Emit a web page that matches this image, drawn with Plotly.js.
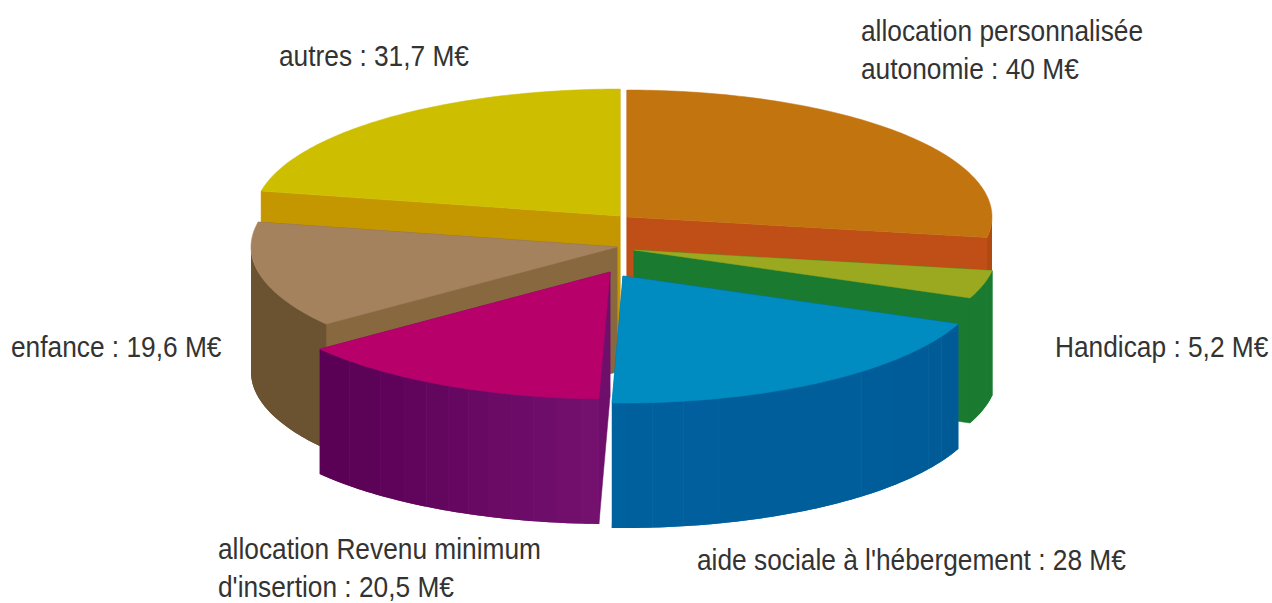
<!DOCTYPE html>
<html lang="fr">
<head>
<meta charset="utf-8">
<script src="https://cdn.plot.ly/plotly-3.0.1.min.js"></script>
<style>html,body{margin:0;padding:0;background:#fff;overflow:hidden}#chart{width:1272px;height:603px}</style>
</head>
<body>
<div id="chart"></div>
<script>
// Data: budget shares, clockwise from 12 o'clock
const categories = ["allocation personnalisée autonomie", "Handicap", "aide sociale à l'hébergement", "allocation Revenu minimum d'insertion", "enfance", "autres"];
const values = [40, 5.2, 28, 20.5, 19.6, 31.7];
const labels = ["allocation personnalisée<br>autonomie : 40 M€", "Handicap : 5,2 M€", "aide sociale à l'hébergement : 28 M€", "allocation Revenu minimum<br>d'insertion : 20,5 M€", "enfance : 19,6 M€", "autres : 31,7 M€"];

// Styles and projection of the exploded 3D pie
const apexX = [627, 634, 623, 610, 617, 620];
const apexY = [217, 250, 276, 272, 247, 216];
const radiusX = [365, 363, 362, 365, 366, 366];
const radiusY = 127;
const depth = 125;
const topColors = ["#c2740f", "#9aa920", "#008cc1", "#b8006b", "#a5825e", "#cdbf00"];
const faceColors = ["#bf4f16", "#197a30", "#00609e", "#6f0f6c", "#88683f", "#c49600"];
const wallBase = ["#b04a10", "#2f8f45", "#1a78b0", "#7f1f7c", "#6b5231", "#c49600"];
const wallStart = ["#b04a10", "#197a30", "#005a96", "#74116f", "#6b5231", "#c49600"];
const wallEnd = ["#b04a10", "#197a30", "#00619f", "#5a0055", "#6b5231", "#c49600"];
const seams = [[], [104, 107, 110.4], [118.4, 122.4, 127.3, 132, 138.8, 164.6, 170.4, 175.3, 179.7],
  [184.5, 188.5, 192.1, 195.7, 199.5, 202.8, 206.3, 210.2, 214.2, 219, 225.5], [], []];
const drawOrder = [5, 0, 4, 1, 3, 2];
const labelX = [861, 1055, 697, 218, 11, 279];
const labelY = [50, 347, 560, 568, 347, 56];
const labelWidthScale = 0.907;

const total = values.reduce((a, b) => a + b, 0);
const rad = d => d * Math.PI / 180;
const traces = [];

function pt(i, deg, down) {
  return [apexX[i] + radiusX[i] * Math.sin(rad(deg)), apexY[i] - radiusY * Math.cos(rad(deg)) + (down ? depth : 0)];
}
function addPoly(points, color, name, width) {
  traces.push({
    type: "scatter", mode: width ? "lines" : "none", fill: "toself", fillcolor: color, name: name, hoverinfo: "name",
    line: { color: color, width: width || 0, simplify: false },
    x: points.map(p => p[0]).concat(points[0][0]), y: points.map(p => p[1]).concat(points[0][1])
  });
}
function mix(a, b, t) {
  const c = h => [1, 3, 5].map(k => parseInt(h.substr(k, 2), 16));
  const A = c(a), B = c(b);
  return "rgb(" + A.map((v, k) => Math.round(v + (B[k] - v) * t)).join(",") + ")";
}
function arc(i, a0, a1, down) {
  const n = Math.max(1, Math.ceil(Math.abs(a1 - a0)));
  const out = [];
  for (let k = 0; k <= n; k++) out.push(pt(i, a0 + (a1 - a0) * k / n, down));
  return out;
}

let acc = 0;
const spans = values.map(v => { const s = [acc, acc + v / total * 360]; acc = s[1]; return s; });

drawOrder.forEach(i => {
  const [a0, a1] = spans[i];
  const name = categories[i];
  const apexT = [apexX[i], apexY[i]], apexB = [apexX[i], apexY[i] + depth];
  // radial cut faces
  addPoly([apexT, pt(i, a0, false), pt(i, a0, true), apexB], faceColors[i], name, 0.5);
  addPoly([apexT, pt(i, a1, false), pt(i, a1, true), apexB], faceColors[i], name, 0.5);
  // outer wall: front-facing part only, over a base that shows faintly through the facet joints
  const w0 = Math.max(a0, 90), w1 = Math.min(a1, 270);
  if (w1 > w0) {
    addPoly([...arc(i, w0, w1, false), ...arc(i, w1, w0, true)], wallBase[i], name, 0);
    const stops = [w0, ...seams[i].filter(s => s > w0 && s < w1), w1];
    for (let k = 0; k < stops.length - 1; k++) {
      const t = stops.length > 2 ? k / (stops.length - 2) : 0;
      addPoly([...arc(i, stops[k], stops[k + 1], false), ...arc(i, stops[k + 1], stops[k], true)],
        mix(wallStart[i], wallEnd[i], t), name, 0);
    }
  }
  // top
  addPoly([apexT, ...arc(i, a0, a1, false)], topColors[i], name, 0.5);
});

const annotations = labels.map((text, i) => ({
  text: text, x: labelX[i], y: labelY[i], xref: "x", yref: "y", xanchor: "left", yanchor: "middle",
  align: "left", showarrow: false, borderwidth: 0, borderpad: 0,
  font: { family: "'Liberation Sans', sans-serif", size: 29, color: "#333333" }
}));

Plotly.newPlot("chart", traces, {
  width: 1272, height: 603, autosize: false, showlegend: false,
  margin: { l: 0, r: 0, t: 0, b: 0 }, paper_bgcolor: "#fff", plot_bgcolor: "#fff",
  xaxis: { range: [0, 1272], visible: false, fixedrange: true },
  yaxis: { range: [603, 0], visible: false, fixedrange: true },
  annotations: annotations
}, { displayModeBar: false }).then(gd => {
  // The reference face is condensed: narrow each label horizontally about its left edge.
  gd.querySelectorAll(".annotation").forEach((g, i) => {
    const left = labelX[i];
    g.setAttribute("transform", "translate(" + left + ",0) scale(" + labelWidthScale + ",1) translate(" + (-left) + ",0)");
  });
});
</script>
</body>
</html>
